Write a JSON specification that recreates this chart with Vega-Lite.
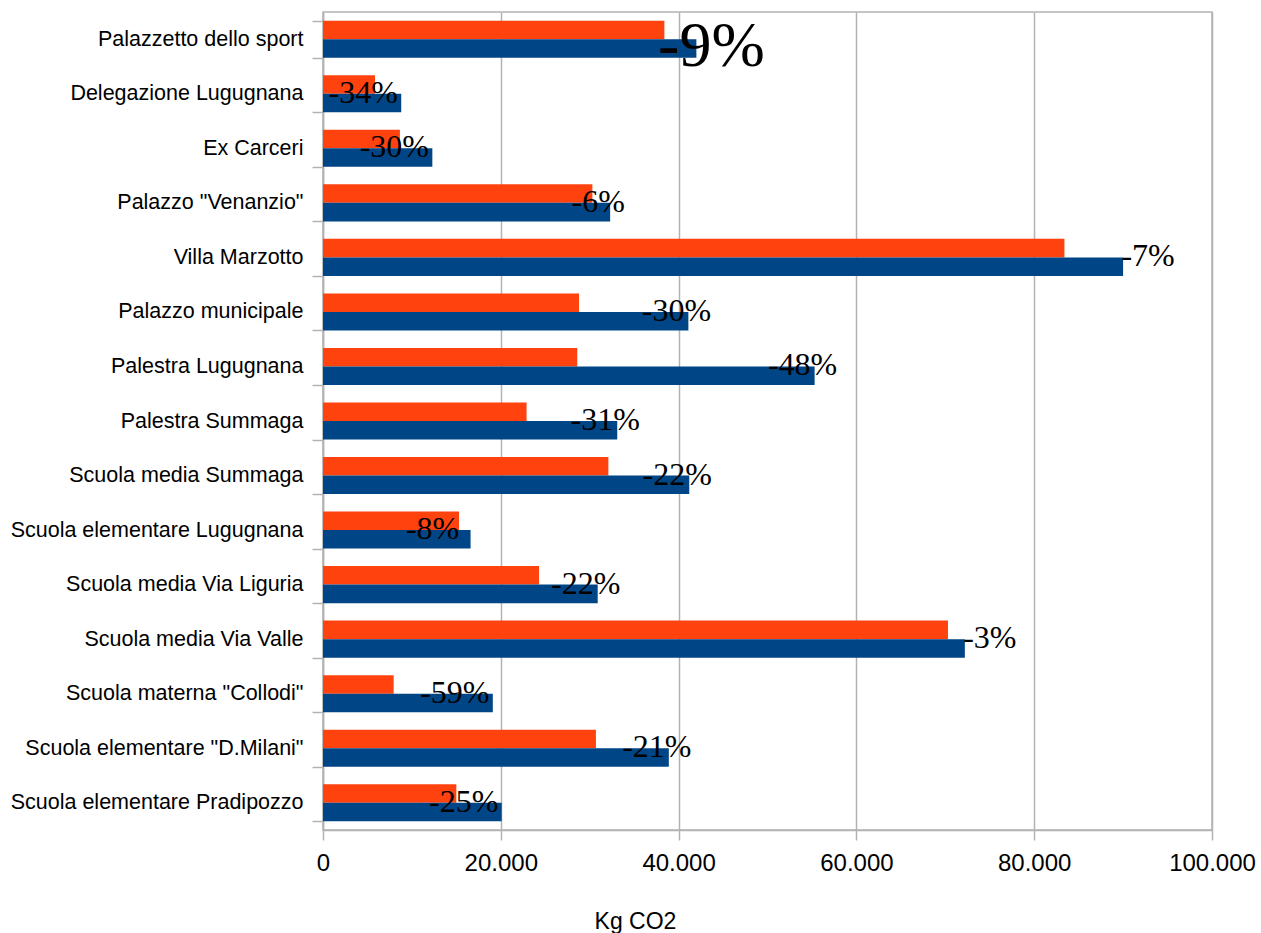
{
  "$schema": "https://vega.github.io/schema/vega-lite/v6.json",
  "autosize": {"type": "none"},
  "width": 889,
  "height": 818,
  "padding": {"left": 323, "top": 12, "right": 49, "bottom": 103},
  "background": "white",
  "config": {
    "locale": {"number": {"decimal": ",", "thousands": ".", "grouping": [3], "currency": ["€", ""]}},
    "view": {"stroke": "#b3b3b3", "strokeWidth": 1.5},
    "font": "Liberation Sans"
  },
  "data": {
    "values": [
      {"edificio": "Palazzetto dello sport", "serie": "Dopo", "valore": 38400, "riduzione": "-9%"},
      {"edificio": "Palazzetto dello sport", "serie": "Prima", "valore": 42000, "riduzione": "-9%"},
      {"edificio": "Delegazione Lugugnana", "serie": "Dopo", "valore": 5850, "riduzione": "-34%"},
      {"edificio": "Delegazione Lugugnana", "serie": "Prima", "valore": 8800, "riduzione": "-34%"},
      {"edificio": "Ex Carceri", "serie": "Dopo", "valore": 8650, "riduzione": "-30%"},
      {"edificio": "Ex Carceri", "serie": "Prima", "valore": 12300, "riduzione": "-30%"},
      {"edificio": "Palazzo \"Venanzio\"", "serie": "Dopo", "valore": 30300, "riduzione": "-6%"},
      {"edificio": "Palazzo \"Venanzio\"", "serie": "Prima", "valore": 32300, "riduzione": "-6%"},
      {"edificio": "Villa Marzotto", "serie": "Dopo", "valore": 83400, "riduzione": "-7%"},
      {"edificio": "Villa Marzotto", "serie": "Prima", "valore": 90000, "riduzione": "-7%"},
      {"edificio": "Palazzo municipale", "serie": "Dopo", "valore": 28800, "riduzione": "-30%"},
      {"edificio": "Palazzo municipale", "serie": "Prima", "valore": 41100, "riduzione": "-30%"},
      {"edificio": "Palestra Lugugnana", "serie": "Dopo", "valore": 28600, "riduzione": "-48%"},
      {"edificio": "Palestra Lugugnana", "serie": "Prima", "valore": 55300, "riduzione": "-48%"},
      {"edificio": "Palestra Summaga", "serie": "Dopo", "valore": 22900, "riduzione": "-31%"},
      {"edificio": "Palestra Summaga", "serie": "Prima", "valore": 33100, "riduzione": "-31%"},
      {"edificio": "Scuola media Summaga", "serie": "Dopo", "valore": 32100, "riduzione": "-22%"},
      {"edificio": "Scuola media Summaga", "serie": "Prima", "valore": 41200, "riduzione": "-22%"},
      {"edificio": "Scuola elementare Lugugnana", "serie": "Dopo", "valore": 15300, "riduzione": "-8%"},
      {"edificio": "Scuola elementare Lugugnana", "serie": "Prima", "valore": 16600, "riduzione": "-8%"},
      {"edificio": "Scuola media Via Liguria", "serie": "Dopo", "valore": 24300, "riduzione": "-22%"},
      {"edificio": "Scuola media Via Liguria", "serie": "Prima", "valore": 30900, "riduzione": "-22%"},
      {"edificio": "Scuola media Via Valle", "serie": "Dopo", "valore": 70300, "riduzione": "-3%"},
      {"edificio": "Scuola media Via Valle", "serie": "Prima", "valore": 72200, "riduzione": "-3%"},
      {"edificio": "Scuola materna \"Collodi\"", "serie": "Dopo", "valore": 7950, "riduzione": "-59%"},
      {"edificio": "Scuola materna \"Collodi\"", "serie": "Prima", "valore": 19100, "riduzione": "-59%"},
      {"edificio": "Scuola elementare \"D.Milani\"", "serie": "Dopo", "valore": 30700, "riduzione": "-21%"},
      {"edificio": "Scuola elementare \"D.Milani\"", "serie": "Prima", "valore": 38900, "riduzione": "-21%"},
      {"edificio": "Scuola elementare Pradipozzo", "serie": "Dopo", "valore": 15000, "riduzione": "-25%"},
      {"edificio": "Scuola elementare Pradipozzo", "serie": "Prima", "valore": 20100, "riduzione": "-25%"}
    ]
  },
  "encoding": {
    "y": {
      "field": "edificio",
      "type": "nominal",
      "sort": null,
      "scale": {"paddingInner": 0.32, "paddingOuter": 0.16},
      "axis": {
        "title": null,
        "grid": false,
        "tickBand": "extent",
        "domainColor": "#b3b3b3",
        "domainWidth": 1.5,
        "tickColor": "#b3b3b3",
        "tickWidth": 1.5,
        "tickSize": 11,
        "labelFontSize": 21.5,
        "labelColor": "#000000",
        "labelPadding": 9,
        "labelLimit": 400
      }
    },
    "x": {
      "field": "valore",
      "type": "quantitative",
      "scale": {"domain": [0, 100000], "nice": false},
      "axis": {
        "title": "Kg CO2",
        "values": [0, 20000, 40000, 60000, 80000, 100000],
        "format": ",d",
        "grid": true,
        "gridColor": "#b3b3b3",
        "gridWidth": 1.5,
        "domainColor": "#b3b3b3",
        "domainWidth": 1.5,
        "tickColor": "#b3b3b3",
        "tickWidth": 1.5,
        "tickSize": 10,
        "labelFontSize": 24,
        "labelColor": "#000000",
        "labelPadding": 11,
        "labelFlush": false,
        "labelOverlap": false,
        "titleFontSize": 23,
        "titleFontWeight": "normal",
        "titleColor": "#000000",
        "titleX": 312,
        "titleY": 91,
        "titleBaseline": "middle"
      }
    }
  },
  "layer": [
    {
      "mark": {"type": "bar"},
      "encoding": {
        "yOffset": {"field": "serie", "sort": ["Dopo", "Prima"]},
        "color": {
          "field": "serie",
          "type": "nominal",
          "scale": {"domain": ["Dopo", "Prima"], "range": ["#ff420e", "#004586"]},
          "legend": null
        }
      }
    },
    {
      "transform": [{"filter": "datum.serie === 'Prima' && indexof(['Palazzo \"Venanzio\"', 'Palazzo municipale', 'Palestra Lugugnana', 'Palestra Summaga', 'Scuola media Summaga', 'Scuola media Via Liguria', 'Scuola elementare \"D.Milani\"'], datum.edificio) >= 0"}],
      "mark": {"type": "text", "font": "Liberation Serif", "fontSize": 32, "dx": -12, "dy": -1, "align": "center", "baseline": "middle", "color": "#000000"},
      "encoding": {"text": {"field": "riduzione"}}
    },
    {
      "transform": [{"filter": "datum.serie === 'Prima' && indexof(['Delegazione Lugugnana', 'Ex Carceri', 'Scuola elementare Lugugnana', 'Scuola materna \"Collodi\"', 'Scuola elementare Pradipozzo'], datum.edificio) >= 0"}],
      "mark": {"type": "text", "font": "Liberation Serif", "fontSize": 32, "dx": -38, "dy": -1, "align": "center", "baseline": "middle", "color": "#000000"},
      "encoding": {"text": {"field": "riduzione"}}
    },
    {
      "transform": [{"filter": "datum.serie === 'Prima' && indexof(['Villa Marzotto', 'Scuola media Via Valle'], datum.edificio) >= 0"}],
      "mark": {"type": "text", "font": "Liberation Serif", "fontSize": 32, "dx": 25, "dy": -1, "align": "center", "baseline": "middle", "color": "#000000"},
      "encoding": {"text": {"field": "riduzione"}}
    },
    {
      "transform": [{"filter": "datum.serie === 'Prima' && datum.edificio === 'Palazzetto dello sport'"}],
      "mark": {"type": "text", "font": "Liberation Serif", "fontSize": 64, "dx": 15, "dy": 8, "align": "center", "baseline": "middle", "color": "#000000"},
      "encoding": {"text": {"field": "riduzione"}}
    }
  ]
}
